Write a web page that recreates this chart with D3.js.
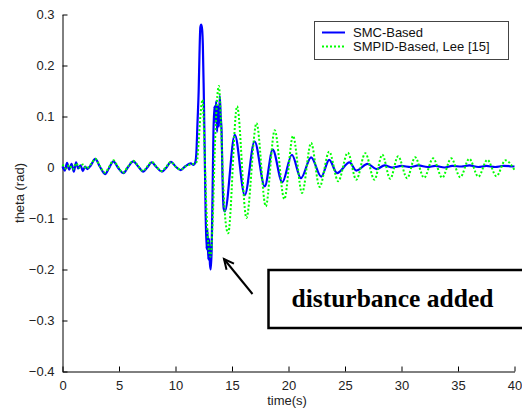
<!DOCTYPE html>
<html><head><meta charset="utf-8">
<script src="https://cdn.jsdelivr.net/npm/d3@7"></script>
<style>html,body{margin:0;padding:0;background:#fff;}svg{display:block;}</style>
</head><body>
<script>
// ---- data ----
const xTicks = [0,5,10,15,20,25,30,35,40];
const yTicks = [0.3,0.2,0.1,0,-0.1,-0.2,-0.3,-0.4];
const seriesNames = ["SMC-Based","SMPID-Based, Lee [15]"];

const blueT = [0,0.2,0.4,0.6,0.8,1.0,1.2,1.4,1.6,1.8,2.0,2.2,2.5,2.9,3.3,3.77,4.1,4.5,4.9,5.4,5.8,6.27,6.7,7.15,7.5,7.9,8.3,8.8,9.2,9.6,10.0,10.45,10.9,11.35,11.6,11.75,11.85,11.95,12.05,12.12,12.2,12.28,12.36,12.42,12.5,12.58,12.66,12.75,12.82,12.9,12.98,13.05,13.12,13.2,13.28,13.36,13.44,13.52,13.6,13.68,13.76,13.84,13.92,14.0,14.08,14.16,14.26,14.37,15.25,16.13,17.0,17.9,18.6,19.45,20.3,21.1,22.0,22.9,23.6,24.3,25.4,26.0,27.0,27.8,28.5,29.2,30.0,30.8,31.5,32.3,33.0,33.8,34.5,35.3,36.0,36.8,37.5,38.3,39.0,40.0];
const blueV = [0.002,-0.006,0.009,-0.004,0.007,-0.008,0.01,-0.002,0.004,-0.007,0.002,-0.003,0.004,0.017,0.002,-0.013,-0.002,0.012,0.0,-0.011,0.001,0.012,0.002,-0.008,0.0,0.010,0.001,-0.008,0.0,0.011,0.002,-0.005,0.003,0.008,0.005,0.01,0.03,0.09,0.15,0.22,0.275,0.28,0.27,0.24,0.15,0.04,-0.08,-0.16,-0.12,-0.18,-0.14,-0.19,-0.2,-0.16,-0.05,0.07,0.12,0.09,0.13,0.07,0.12,0.08,0.14,0.1,0.07,-0.02,-0.08,-0.086,0.064,-0.054,0.051,-0.037,0.035,-0.029,0.025,-0.021,0.02,-0.018,0.015,-0.011,0.01,-0.006,0.007,-0.003,0.004,0.0,0.003,0.001,0.004,0.001,0.003,0.0,0.003,0.002,0.004,0.001,0.003,0.001,0.003,0.002];

const greenT = [0,0.3,0.6,0.9,1.2,1.5,1.8,2.1,2.5,2.9,3.3,3.75,4.1,4.5,4.9,5.35,5.8,6.25,6.7,7.1,7.5,7.9,8.3,8.75,9.2,9.6,10.0,10.45,10.9,11.3,11.7,11.9,12.05,12.2,12.4,12.55,12.7,12.9,13.1,13.3,13.5,13.7,13.84,14.0,14.2,14.45,14.66,15.45,16.28,17.17,17.99,18.78,19.63,20.4,21.2,22.0,22.75,23.6,24.4,25.25,26.0,26.8,27.6,28.3,29.0,29.7,30.5,31.2,32.0,32.8,33.6,34.4,35.2,36.0,36.8,37.6,38.4,39.2,40.0];
const greenV = [0.006,-0.002,0.005,-0.004,0.008,0.0,0.006,-0.002,0.006,0.017,0.003,-0.01,0.0,0.014,0.002,-0.01,0.002,0.013,0.003,-0.007,0.002,0.011,0.002,-0.007,0.002,0.011,0.002,-0.004,0.002,0.006,0.008,0.012,0.05,0.1,0.133,0.05,-0.06,-0.15,-0.175,-0.1,0.05,0.14,0.16,0.1,-0.02,-0.11,-0.129,0.12,-0.099,0.087,-0.076,0.073,-0.062,0.062,-0.05,0.048,-0.038,0.031,-0.027,0.029,-0.024,0.028,-0.024,0.025,-0.022,0.022,-0.021,0.02,-0.02,0.018,-0.02,0.018,-0.019,0.017,-0.018,0.015,-0.017,0.014,-0.005];

// ---- drawing ----
const W = 522, H = 414;
const svg = d3.select("body").append("svg").attr("width", W).attr("height", H);
const font = "'Liberation Sans', Arial, sans-serif";

const x = d3.scaleLinear().domain([0,40]).range([62.5,514.5]);
const y = d3.scaleLinear().domain([-0.4,0.3]).range([371.5,14.5]);

// axes
const xAxis = d3.axisBottom(x).tickValues(xTicks).tickSizeInner(-5).tickSizeOuter(0).tickPadding(9).tickFormat(d3.format("d"));
const gx = svg.append("g").attr("transform", `translate(0,${y(-0.4)})`).call(xAxis);
const yAxis = d3.axisLeft(y).tickValues(yTicks).tickSizeInner(-5).tickSizeOuter(0).tickPadding(8).tickFormat(d => d === 0 ? "0" : d3.format(".1f")(d));
const gy = svg.append("g").attr("transform", `translate(${x(0)},0)`).call(yAxis);
[gx, gy].forEach(g => {
  g.select(".domain").attr("stroke", "#000").attr("stroke-width", 1);
  g.selectAll(".tick line").attr("stroke", "#000");
  g.selectAll(".tick text").attr("font-family", font).attr("font-size", 13).attr("fill", "#222");
});
gx.selectAll(".tick text").attr("dy", "0.71em");

svg.append("text").attr("x", 287).attr("y", 405).attr("text-anchor", "middle")
  .attr("font-family", font).attr("font-size", 13).attr("fill", "#222").text("time(s)");
svg.append("text").attr("transform", "translate(24,193) rotate(-90)").attr("text-anchor", "middle")
  .attr("font-family", font).attr("font-size", 13).attr("fill", "#222").text("theta (rad)");

// lines
const line = d3.line().x(d => x(d[0])).y(d => y(d[1])).curve(d3.curveMonotoneX);
const blueData = blueT.map((t,i) => [t, blueV[i]]);
const greenData = greenT.map((t,i) => [t, greenV[i]]);
svg.append("path").datum(blueData).attr("d", line).attr("fill", "none")
  .attr("stroke", "#0000ff").attr("stroke-width", 2.2).attr("stroke-linejoin", "round");
svg.append("path").datum(greenData).attr("d", line).attr("fill", "none")
  .attr("stroke", "#00ff00").attr("stroke-width", 2).attr("stroke-dasharray", "2,2");

// legend
const lg = svg.append("g");
lg.append("rect").attr("x", 314.5).attr("y", 21.5).attr("width", 194).attr("height", 38)
  .attr("fill", "#fff").attr("stroke", "#444").attr("stroke-width", 1);
const legendColors = ["#0000ff","#00ff00"];
seriesNames.forEach((n,i) => {
  const yy = 32.5 + i*14;
  lg.append("line").attr("x1", 322).attr("x2", 345).attr("y1", yy).attr("y2", yy)
    .attr("stroke", legendColors[i]).attr("stroke-width", 2)
    .attr("stroke-dasharray", i === 1 ? "2,2" : null);
  lg.append("text").attr("x", 353).attr("y", yy + 4.5).attr("font-family", font)
    .attr("font-size", 13).attr("fill", "#111").text(n);
});

// annotation
svg.append("rect").attr("x", 268.5).attr("y", 270).attr("width", 270).attr("height", 58)
  .attr("fill", "#fff").attr("stroke", "#000").attr("stroke-width", 2.5);
svg.append("text").attr("x", 291.5).attr("y", 307).attr("font-family", "'Liberation Serif', 'Times New Roman', serif")
  .attr("font-weight", "bold").attr("font-size", 25.5).attr("fill", "#000").text("disturbance added");
const tip = [224, 259], tail = [252.5, 294];
const ang = Math.atan2(tail[1]-tip[1], tail[0]-tip[0]);
const hl = 11, ha = 0.45;
svg.append("line").attr("x1", tail[0]).attr("y1", tail[1]).attr("x2", tip[0]).attr("y2", tip[1])
  .attr("stroke", "#000").attr("stroke-width", 2);
svg.append("path").attr("d", d3.line()([
  [tip[0] + hl*Math.cos(ang+ha), tip[1] + hl*Math.sin(ang+ha)], tip,
  [tip[0] + hl*Math.cos(ang-ha), tip[1] + hl*Math.sin(ang-ha)]]))
  .attr("fill", "none").attr("stroke", "#000").attr("stroke-width", 2);
</script>
</body></html>
